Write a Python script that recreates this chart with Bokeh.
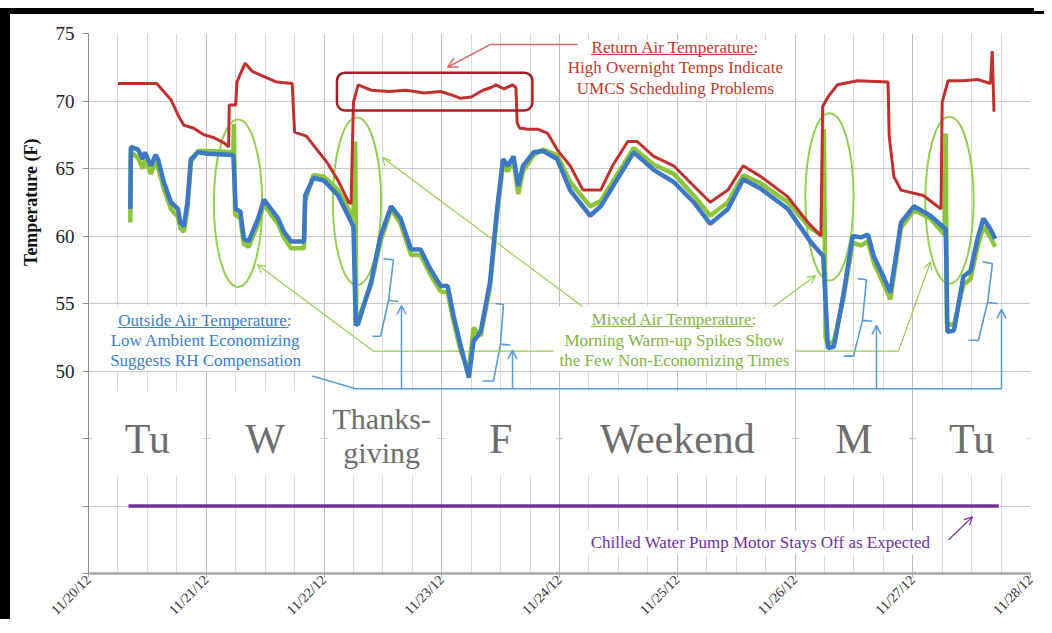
import numpy as np
from bokeh.plotting import figure
from bokeh.models import Range1d, FixedTicker, BoxAnnotation, Arrow, OpenHead
from bokeh.core.properties import value
from bokeh.embed import file_html
from bokeh.resources import INLINE

# ---------------- data ----------------
date_ticks = [0, 1, 2, 3, 4, 5, 6, 7, 8]
date_labels = ["11/20/12", "11/21/12", "11/22/12", "11/23/12", "11/24/12",
               "11/25/12", "11/26/12", "11/27/12", "11/28/12"]
temp_ticks = [35, 40, 45, 50, 55, 60, 65, 70, 75]
day_names = ["Tu", "W", "F", "Weekend", "M", "Tu"]
day_name_pos = [0.5, 1.5, 3.5, 5.0, 6.5, 7.5]
holiday_lines = ["Thanks-", "giving"]

return_air_day = [0.25, 0.58, 0.70, 0.77, 0.81, 0.89, 0.98, 1.06, 1.15, 1.19, 1.195, 1.25, 1.26, 1.33, 1.39,
                  1.52, 1.60, 1.73, 1.75, 1.85, 1.94, 2.03, 2.12, 2.21, 2.23, 2.25, 2.29, 2.40, 2.55, 2.70,
                  2.85, 2.99, 3.10, 3.16, 3.25, 3.35, 3.42, 3.46, 3.53, 3.60, 3.63, 3.64, 3.66, 3.73, 3.82,
                  3.90, 3.98, 4.09, 4.20, 4.35, 4.45, 4.58, 4.66, 4.80, 4.97, 5.14, 5.28, 5.43, 5.56, 5.71,
                  5.94, 6.11, 6.22, 6.235, 6.28, 6.36, 6.53, 6.79, 6.80, 6.84, 6.90, 7.09, 7.24, 7.25, 7.30,
                  7.43, 7.55, 7.66, 7.675, 7.69]
return_air_temp = [71.3, 71.3, 70.1, 68.8, 68.2, 68.0, 67.5, 67.3, 66.9, 66.6, 69.7, 69.7, 71.4, 72.8, 72.2,
                   71.7, 71.4, 71.3, 67.7, 67.4, 66.4, 65.4, 64.1, 62.5, 62.4, 69.9, 71.2, 70.8, 70.7, 70.8,
                   70.6, 70.7, 70.4, 70.2, 70.3, 70.8, 71.0, 71.2, 70.9, 71.2, 71.0, 68.4, 68.0, 67.9, 67.9,
                   67.6, 66.4, 65.2, 63.4, 63.4, 65.2, 67.0, 67.0, 65.9, 65.2, 63.7, 62.5, 63.4, 65.2, 64.4,
                   62.9, 61.0, 60.0, 69.6, 70.3, 71.2, 71.5, 71.4, 67.4, 64.4, 63.4, 63.0, 62.0, 69.9, 71.5,
                   71.5, 71.6, 71.3, 73.7, 69.2]

outside_air_day = [0.355, 0.36, 0.42, 0.46, 0.48, 0.53, 0.57, 0.59, 0.64, 0.70, 0.76, 0.78, 0.81, 0.84, 0.87,
                   0.93, 1.01, 1.23, 1.25, 1.29, 1.32, 1.36, 1.44, 1.49, 1.55, 1.61, 1.66, 1.72, 1.83, 1.84,
                   1.91, 2.00, 2.12, 2.25, 2.27, 2.29, 2.40, 2.48, 2.57, 2.65, 2.74, 2.82, 2.90, 2.99, 3.05,
                   3.10, 3.16, 3.23, 3.27, 3.33, 3.41, 3.47, 3.52, 3.56, 3.61, 3.65, 3.69, 3.78, 3.86, 3.98,
                   4.09, 4.26, 4.35, 4.63, 4.80, 4.97, 5.14, 5.28, 5.43, 5.56, 5.71, 5.94, 6.13, 6.24, 6.28,
                   6.33, 6.41, 6.49, 6.56, 6.62, 6.67, 6.75, 6.81, 6.85, 6.90, 7.01, 7.15, 7.28, 7.295, 7.35,
                   7.43, 7.49, 7.55, 7.60, 7.66, 7.70]
outside_air_temp = [62.0, 66.6, 66.4, 65.7, 66.2, 65.2, 66.0, 65.7, 64.0, 62.5, 62.0, 61.0, 60.7, 62.5, 65.7,
                    66.2, 66.1, 66.0, 62.0, 61.8, 59.8, 59.6, 61.3, 62.7, 62.0, 61.3, 60.3, 59.6, 59.6, 63.0,
                    64.3, 64.1, 63.0, 60.7, 53.4, 53.5, 56.6, 60.0, 62.2, 61.3, 59.0, 59.0, 57.6, 56.3, 56.3,
                    54.1, 51.9, 49.5, 52.2, 52.9, 56.6, 62.0, 65.7, 65.2, 65.9, 63.7, 65.2, 66.2, 66.3, 65.7,
                    63.4, 61.5, 62.2, 66.2, 64.9, 64.0, 62.5, 60.9, 62.0, 64.2, 63.5, 62.0, 59.6, 58.5, 51.7,
                    51.8, 55.6, 60.0, 59.9, 60.1, 58.5, 57.0, 55.8, 58.1, 61.0, 62.2, 61.5, 60.5, 52.9, 53.0,
                    57.0, 57.4, 59.8, 61.3, 60.5, 59.8]

mixed_air_day = [0.355, 0.36, 0.42, 0.46, 0.48, 0.53, 0.57, 0.59, 0.64, 0.70, 0.76, 0.78, 0.81, 0.84, 0.87,
                 0.93, 1.01, 1.23, 1.235, 1.245, 1.29, 1.32, 1.36, 1.44, 1.49, 1.55, 1.61, 1.66, 1.72, 1.83,
                 1.84, 1.91, 2.00, 2.12, 2.25, 2.265, 2.275, 2.29, 2.40, 2.48, 2.57, 2.65, 2.74, 2.82, 2.90,
                 2.99, 3.05, 3.10, 3.16, 3.23, 3.27, 3.33, 3.41, 3.47, 3.52, 3.56, 3.61, 3.65, 3.69, 3.78,
                 3.86, 3.98, 4.09, 4.26, 4.35, 4.63, 4.80, 4.97, 5.14, 5.28, 5.43, 5.56, 5.71, 5.94, 6.13,
                 6.235, 6.245, 6.26, 6.28, 6.33, 6.41, 6.49, 6.56, 6.62, 6.67, 6.75, 6.81, 6.85, 6.90, 7.01,
                 7.15, 7.27, 7.28, 7.29, 7.35, 7.43, 7.49, 7.55, 7.60, 7.66, 7.70]
mixed_air_temp = [61.0, 66.2, 65.8, 65.0, 65.6, 64.6, 65.5, 65.1, 63.5, 62.0, 61.4, 60.6, 60.3, 62.0, 65.5,
                  66.3, 66.3, 66.2, 68.3, 61.6, 61.3, 59.4, 59.2, 60.9, 62.4, 61.6, 60.9, 59.9, 59.1, 59.1,
                  62.6, 64.5, 64.4, 63.4, 61.3, 67.0, 53.6, 53.8, 56.4, 59.6, 62.0, 60.9, 58.6, 58.6, 57.2,
                  55.9, 55.8, 53.7, 51.5, 50.0, 53.2, 52.6, 56.2, 61.6, 65.3, 64.8, 65.5, 63.1, 64.8, 66.0,
                  66.4, 66.0, 64.0, 62.2, 62.6, 66.5, 65.3, 64.6, 63.0, 61.5, 62.5, 64.5, 63.9, 62.5, 60.6,
                  60.0, 67.9, 52.5, 52.0, 52.2, 55.3, 59.5, 59.3, 59.6, 58.0, 56.5, 55.3, 57.7, 60.6, 61.9,
                  61.3, 60.1, 67.6, 53.5, 53.4, 56.4, 56.8, 59.2, 60.7, 59.9, 59.2]

pump_day = [0.34, 7.73]
pump_plot_level = [40, 40]

# ---------------- styles ----------------
FONT = "Liberation Serif, Times New Roman, DejaVu Serif, serif"
RED = "#c0302f"
RED_TXT = "#c0392b"
BLUE = "#3d78c2"
BLUE_ANN = "#5b9bd5"
BLUE_TXT = "#3a7dc9"
GREEN = "#8cc43c"
GREEN_ANN = "#92d050"
GREEN_TXT = "#7fb446"
PURPLE = "#7030a0"

p = figure(width=1034, height=611, output_backend="svg", toolbar_location=None,
           x_range=Range1d(0, 8), y_range=Range1d(35, 75),
           min_border_left=78, min_border_right=14, min_border_top=19, min_border_bottom=48)
p.styles = {"margin-top": "11px", "margin-left": "10px",
            "border-top-width": "3px", "border-top-style": "solid", "border-top-color": "#000000",
            "box-shadow": "-10px -3px 0px 0px #000000"}
p.outline_line_color = None
p.background_fill_color = "white"
p.border_fill_color = "white"

quarter_ticks = [i * 0.25 for i in range(33)]
p.xgrid.ticker = FixedTicker(ticks=date_ticks, minor_ticks=quarter_ticks)
p.xgrid.grid_line_color = "#bdbdbd"
p.xgrid.minor_grid_line_color = "#dadada"
p.ygrid.ticker = FixedTicker(ticks=temp_ticks)
p.ygrid.grid_line_color = "#c8c8c8"

p.xaxis.ticker = FixedTicker(ticks=date_ticks)
p.xaxis.major_label_overrides = {t: s for t, s in zip(date_ticks, date_labels)}
p.xaxis.major_label_orientation = np.pi / 4
p.xaxis.major_label_text_font = FONT
p.xaxis.major_label_text_font_size = "14px"
p.xaxis.major_label_text_color = "#333333"
p.xaxis.axis_line_color = "#a6a6a6"
p.xaxis.axis_line_width = 2.5
p.xaxis.major_tick_line_color = "#a6a6a6"
p.xaxis.major_tick_out = 4
p.xaxis.major_tick_in = 0
p.xaxis.minor_tick_line_color = None
p.xaxis.major_label_standoff = 0

p.yaxis.ticker = FixedTicker(ticks=temp_ticks)
p.yaxis.major_label_overrides = {35: "", 40: "", 45: ""}
p.yaxis.major_label_text_font = FONT
p.yaxis.major_label_text_font_size = "19px"
p.yaxis.major_label_text_color = "#222222"
p.yaxis.axis_line_color = "#8c8c8c"
p.yaxis.major_tick_line_color = "#8c8c8c"
p.yaxis.major_tick_out = 6
p.yaxis.major_tick_in = 0
p.yaxis.minor_tick_line_color = None
p.yaxis.major_label_standoff = 8
p.yaxis.axis_label = "\u00a0" * 45 + "Temperature (F)"
p.yaxis.axis_label_text_font = FONT
p.yaxis.axis_label_text_font_style = "bold"
p.yaxis.axis_label_text_font_size = "18px"
p.yaxis.axis_label_text_color = "#111111"
p.yaxis.axis_label_standoff = 12

# white boxes hiding grid behind texts
day_box_left = [0.03, 1.03, 2.03, 3.03, 4.03, 6.03, 7.03]
day_box_right = [0.97, 1.97, 2.97, 3.97, 5.97, 6.97, 7.97]
p.quad(left=day_box_left, right=day_box_right, top=48.5, bottom=42.3,
       fill_color="white", line_color=None)
p.quad(left=[0.19, 3.95, 4.20, 4.20], right=[1.82, 6.0, 5.85, 7.22],
       top=[54.8, 54.8, 74.5, 38.2], bottom=[50.0, 50.0, 70.3, 36.4],
       fill_color="white", line_color=None)

# --- blue annotation: brackets, arrows, leader ---
p.line([1.90, 2.27, 7.754], [49.63, 48.68, 48.68], line_color=BLUE_ANN, line_width=1.5)
brace_x = [[2.505, 2.590, 2.548, 2.480, 2.412], [3.457, 3.524, 3.499, 3.439, 3.346],
           [6.531, 6.607, 6.573, 6.497, 6.412], [7.592, 7.677, 7.635, 7.558, 7.473]]
brace_y = [[58.31, 58.24, 55.22, 52.57, 52.57], [55.00, 54.93, 51.99, 49.26, 49.26],
           [56.84, 56.76, 53.75, 51.10, 51.10], [58.09, 57.94, 55.07, 52.28, 52.28]]
p.multi_line(brace_x, brace_y, line_color=BLUE_ANN, line_width=1.6)
p.multi_line([[2.548, 2.633], [3.499, 3.584], [6.573, 6.658], [7.635, 7.72]],
             [[55.22, 55.15], [51.99, 51.91], [53.75, 53.68], [55.07, 55.0]],
             line_color=BLUE_ANN, line_width=1.6)
for xa, ya in [(2.658, 54.85), (3.601, 51.54), (6.692, 53.38), (7.754, 54.56)]:
    p.add_layout(Arrow(end=OpenHead(size=9, line_color=BLUE_ANN, line_width=1.5),
                       x_start=xa, y_start=48.68, x_end=xa, y_end=ya,
                       line_color=BLUE_ANN, line_width=1.5))

# --- green annotation: ellipses and leaders ---
p.ellipse(x=[1.27, 2.28, 6.293, 7.312], y=[62.43, 62.57, 62.9, 62.65],
          width=0.41, height=12.4, fill_color=None, line_color=GREEN_ANN, line_width=2)
p.line([3.95, 2.42, 1.435], [51.47, 51.47, 57.87], line_color=GREEN_ANN, line_width=1.2)
p.line([4.195, 2.497], [54.78, 65.81], line_color=GREEN_ANN, line_width=1.2)
p.line([5.817, 6.174], [54.78, 57.06], line_color=GREEN_ANN, line_width=1.2)
p.line([6.0, 6.879, 7.151], [51.47, 51.47, 58.09], line_color=GREEN_ANN, line_width=1.2)
for (x0, y0, x1, y1) in [(2.0, 54.0, 1.435, 57.87), (2.8, 63.0, 2.497, 65.81),
                         (6.0, 55.9, 6.174, 57.06), (7.05, 55.6, 7.151, 58.09)]:
    p.add_layout(Arrow(end=OpenHead(size=8, line_color=GREEN_ANN, line_width=1.2),
                       x_start=x0, y_start=y0, x_end=x1, y_end=y1,
                       line_color=None, line_width=1.2))

# --- red annotation ---
try:
    red_box = BoxAnnotation(left=2.11, right=3.77, bottom=69.3, top=72.1, fill_alpha=0,
                            line_color="#a81e22", line_alpha=1, line_width=2.5, border_radius=8)
except Exception:
    red_box = BoxAnnotation(left=2.11, right=3.77, bottom=69.3, top=72.1, fill_alpha=0,
                            line_color="#a81e22", line_alpha=1, line_width=2.5)
p.add_layout(red_box)
p.line([4.153, 3.414], [74.19, 74.19], line_color="#d46a6a", line_width=1.5)
p.add_layout(Arrow(end=OpenHead(size=10, line_color="#d46a6a", line_width=1.5),
                   x_start=3.414, y_start=74.19, x_end=3.049, y_end=72.5,
                   line_color="#d46a6a", line_width=1.5))

# --- data series ---
p.line(pump_day, pump_plot_level, line_color=PURPLE, line_width=3.5)
p.line(mixed_air_day, mixed_air_temp, line_color=GREEN, line_width=4.5)
p.line(outside_air_day, outside_air_temp, line_color=BLUE, line_width=4.5)
p.line(return_air_day, return_air_temp, line_color=RED, line_width=3)

# purple annotation
p.add_layout(Arrow(end=OpenHead(size=8, line_color=PURPLE, line_width=1.2),
                   x_start=7.304, y_start=37.5, x_end=7.507, y_end=39.19,
                   line_color=PURPLE, line_width=1.2))

# --- texts ---
def txt(xs, ys, texts, color, size, style="normal"):
    p.text(x=xs, y=ys, text=texts, text_color=color, text_font=value(FONT),
           text_font_size=size, text_font_style=style,
           text_align="center", text_baseline="middle")

txt([4.985, 4.985, 4.985], [73.97, 72.5, 70.96],
    ["Return Air Temperature:", "High Overnight Temps Indicate", "UMCS Scheduling Problems"],
    RED_TXT, "17px")
p.line([4.268, 5.663], [73.44, 73.44], line_color=RED_TXT, line_width=1)

txt([0.994, 0.994, 0.994], [53.75, 52.28, 50.81],
    ["Outside Air Temperature:", "Low Ambient Economizing", "Suggests RH Compensation"],
    BLUE_TXT, "17px")
p.line([0.248, 1.699], [53.22, 53.22], line_color=BLUE_TXT, line_width=1)

txt([4.977, 4.977, 4.977], [53.82, 52.28, 50.81],
    ["Mixed Air Temperature:", "Morning Warm-up Spikes Show", "the Few Non-Economizing Times"],
    GREEN_TXT, "17px")
p.line([4.267, 5.646], [53.29, 53.29], line_color=GREEN_TXT, line_width=1)

txt([5.707], [37.28], ["Chilled Water Pump Motor Stays Off as Expected"], PURPLE, "17px")

txt(day_name_pos, [45.0] * len(day_name_pos), day_names, "#6e6e6e", "42px")
txt([2.49, 2.49], [46.45, 44.0], holiday_lines, "#6e6e6e", "30px")

open("out.html", "w").write(file_html(p, INLINE))
